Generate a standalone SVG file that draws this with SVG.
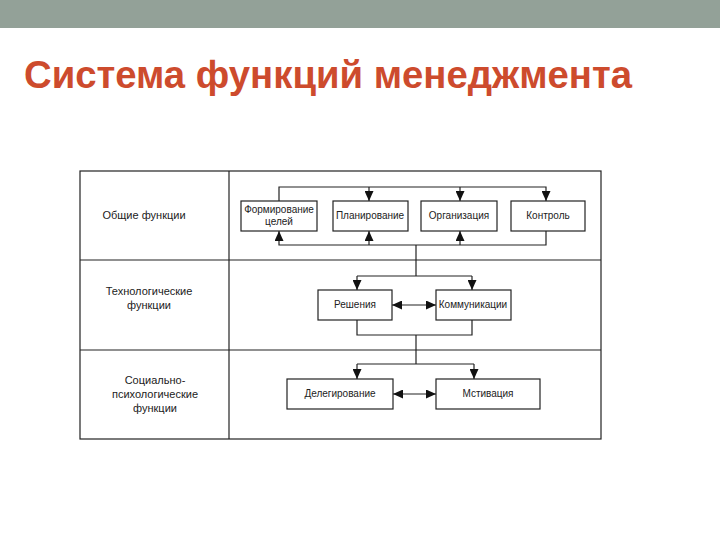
<svg xmlns="http://www.w3.org/2000/svg" width="720" height="540" viewBox="0 0 720 540">
<style>
.t{font-family:"Liberation Sans",Arial,sans-serif;fill:#222;}
.bt{font-size:10px;text-anchor:middle;}
.lt{font-size:11px;text-anchor:middle;}
.box{fill:#fff;stroke:#222;stroke-width:1.2;}
.grid{fill:none;stroke:#222;stroke-width:1.2;}
.c{fill:none;stroke:#222;stroke-width:1.2;}
</style>
<defs>
<marker id="ah" markerUnits="userSpaceOnUse" markerWidth="10" markerHeight="9" refX="10" refY="4.5" orient="auto-start-reverse">
<path d="M0,0 L10,4.5 L0,9 z" fill="#111"/>
</marker>
</defs>
<rect x="0" y="0" width="720" height="540" fill="#fff"/>
<rect x="0" y="0" width="720" height="28" fill="#93A198"/>
<text x="24" y="88" class="t" style="font-size:38px;font-weight:bold;fill:#CD4B2D" textLength="608" lengthAdjust="spacingAndGlyphs">Система функций менеджмента</text>

<g id="table">
<rect x="80" y="171" width="521" height="268" class="grid"/>
<line x1="229" y1="171" x2="229" y2="439" class="grid"/>
<line x1="80" y1="260" x2="601" y2="260" class="grid"/>
<line x1="80" y1="350" x2="601" y2="350" class="grid"/>
<text class="t lt" x="144" y="219">Общие функции</text>
<text class="t lt" x="149" y="295">Технологические</text>
<text class="t lt" x="149" y="309">функции</text>
<text class="t lt" x="155" y="384">Социально-</text>
<text class="t lt" x="155" y="398">психологические</text>
<text class="t lt" x="155" y="412">функции</text>
</g>

<g id="connectors">
<path class="c" d="M279,201 V187 H546 V201" marker-end="url(#ah)"/>
<path class="c" d="M369,187 V201" marker-end="url(#ah)"/>
<path class="c" d="M460,187 V201" marker-end="url(#ah)"/>
<path class="c" d="M546,231 V245 H279 V231" marker-end="url(#ah)"/>
<path class="c" d="M369,245 V231" marker-end="url(#ah)"/>
<path class="c" d="M460,245 V231" marker-end="url(#ah)"/>
<path class="c" d="M416,245 V276"/>
<path class="c" d="M357,276 H472"/>
<path class="c" d="M357,276 V290" marker-end="url(#ah)"/>
<path class="c" d="M472,276 V290" marker-end="url(#ah)"/>
<path class="c" d="M357,320 V335 H472 V320"/>
<path class="c" d="M392,305 H436" marker-start="url(#ah)" marker-end="url(#ah)"/>
<path class="c" d="M416,335 V364"/>
<path class="c" d="M357,364 H474"/>
<path class="c" d="M357,364 V379" marker-end="url(#ah)"/>
<path class="c" d="M474,364 V379" marker-end="url(#ah)"/>
<path class="c" d="M393,394 H436" marker-start="url(#ah)" marker-end="url(#ah)"/>
</g>

<g id="n-formirovanie">
<rect class="box" x="241" y="201" width="76" height="30"/>
<text class="t bt" x="279" y="213">Формирование</text>
<text class="t bt" x="279" y="225">целей</text>
</g>
<g id="n-planirovanie">
<rect class="box" x="333" y="201" width="75" height="30"/>
<text class="t bt" x="370" y="219">Планирование</text>
</g>
<g id="n-organizaciya">
<rect class="box" x="421" y="201" width="76" height="30"/>
<text class="t bt" x="459" y="219">Организация</text>
</g>
<g id="n-kontrol">
<rect class="box" x="511" y="201" width="74" height="30"/>
<text class="t bt" x="548" y="219">Контроль</text>
</g>
<g id="n-resheniya">
<rect class="box" x="318" y="290" width="74" height="30"/>
<text class="t bt" x="355" y="308">Решения</text>
</g>
<g id="n-kommunikacii">
<rect class="box" x="436" y="290" width="75" height="30"/>
<text class="t bt" x="473" y="308">Коммуникации</text>
</g>
<g id="n-delegirovanie">
<rect class="box" x="287" y="379" width="106" height="30"/>
<text class="t bt" x="340" y="397">Делегирование</text>
</g>
<g id="n-motivaciya">
<rect class="box" x="436" y="379" width="104" height="30"/>
<text class="t bt" x="488" y="397">Мстивация</text>
</g>
</svg>
